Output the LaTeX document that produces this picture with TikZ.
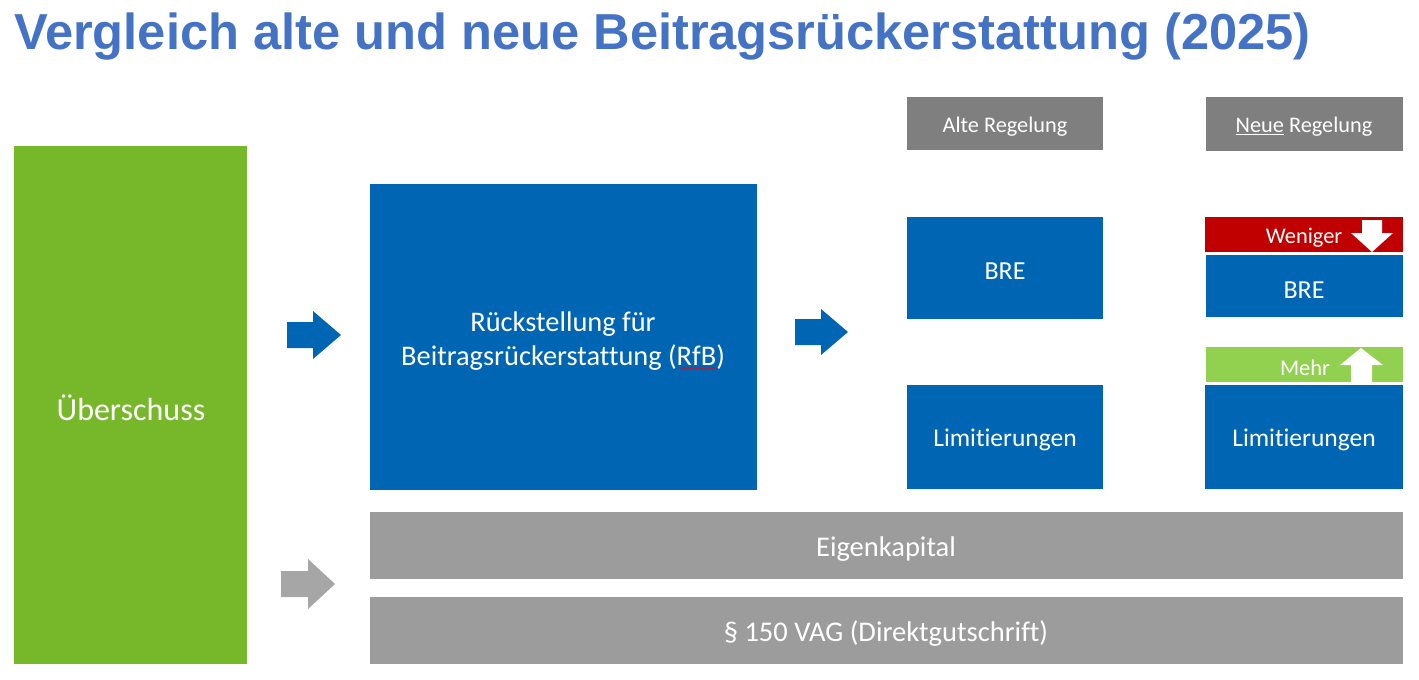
\documentclass[tikz,border=0pt]{standalone}
\usepackage{fontspec}
\usetikzlibrary{decorations.pathmorphing}
\setmainfont[Ligatures=NoCommon]{Carlito}
\newfontfamily\titlefont{Liberation Sans}
\definecolor{titleblue}{HTML}{4472C4}
\definecolor{boxblue}{HTML}{0065B2}
\definecolor{boxgreen}{HTML}{77B82A}
\definecolor{hdrgray}{HTML}{7F7F7F}
\definecolor{bargray}{HTML}{9C9C9C}
\definecolor{arrgray}{HTML}{A6A6A6}
\definecolor{wred}{HTML}{C00000}
\definecolor{mgreen}{HTML}{92D050}
\newcommand{\fsz}[1]{\fontsize{#1}{#1}\selectfont}
\tikzset{lbl/.style={text=white, inner sep=0pt, font=\fsz{#1}, yshift=-2pt}}
\begin{document}
\begin{tikzpicture}[x=1pt,y=-1pt]
\useasboundingbox (0,0) rectangle (1419,680);
% title
\node[anchor=base west, inner sep=0pt, text=titleblue, font=\titlefont\bfseries\fontsize{50.6}{56}\selectfont] (title) at (14,49) {Vergleich alte und neue Beitragsrückerstattung (2025)};
% green
\fill[boxgreen] (14,146) rectangle (247,664);
\node[lbl=32] (ueb) at (131,406) {Überschuss};
% RfB
\fill[boxblue] (370,184) rectangle (757,490);
\node[text=white, align=center, inner sep=0pt, yshift=-2pt, font=\fontsize{28.4}{34}\selectfont] (rfb) at (563,339) {Rückstellung für\\Beitragsrückerstattung (RfB)};
\coordinate (sq1) at (679,368);
\coordinate (sq2) at (716,368);
\draw[red, line width=0.6pt, decorate, decoration={snake, amplitude=0.8pt, segment length=3pt}] (sq1) -- (sq2);
% arrows
\fill[boxblue] (287,322) -- (313,322) -- (313,311) -- (341,335) -- (313,359) -- (313,348) -- (287,348) -- cycle;
\fill[boxblue] (795,319) -- (821,319) -- (821,309) -- (848,332) -- (821,355) -- (821,345) -- (795,345) -- cycle;
\fill[arrgray] (281,571) -- (308,571) -- (308,559) -- (335,584) -- (308,609) -- (308,597) -- (281,597) -- cycle;
% headers
\fill[hdrgray] (907,97) rectangle (1103,150);
\node[lbl=22.3] (alt) at (1005,125) {Alte Regelung};
\fill[hdrgray] (1206,97) rectangle (1403,151);
\node[lbl=22.3] (neu) at (1304,125) {\underline{Neue} Regelung};
% old column
\fill[boxblue] (907,217) rectangle (1103,319);
\node[lbl=26] (bre1) at (1005,269) {BRE};
\fill[boxblue] (907,385) rectangle (1103,489);
\node[lbl=25.5] (lim1) at (1005,438) {Limitierungen};
% new column
\fill[wred] (1205,217) rectangle (1403,252);
\node[lbl=22.4] (wen) at (1304,236) {Weniger};
\fill[white] (1362,220) -- (1382,220) -- (1382,233) -- (1393,233) -- (1372,252) -- (1351,233) -- (1362,233) -- cycle;
\fill[boxblue] (1206,255) rectangle (1403,317);
\node[lbl=26] (bre2) at (1304,288) {BRE};
\fill[mgreen] (1206,347) rectangle (1403,382);
\node[lbl=22.4] (mehr) at (1305,366) {Mehr};
\fill[white] (1351,382) -- (1372,382) -- (1372,365) -- (1383,365) -- (1361,348) -- (1340,365) -- (1351,365) -- cycle;
\fill[boxblue] (1205,385) rectangle (1403,489);
\node[lbl=25.5] (lim2) at (1304,438) {Limitierungen};
% bars
\fill[bargray] (370,512) rectangle (1403,579);
\node[lbl=28.5] (ek) at (886,547) {Eigenkapital};
\fill[bargray] (370,597) rectangle (1403,664);
\node[lbl=28.5] (vag) at (886,632) {§ 150 VAG (Direktgutschrift)};
\end{tikzpicture}
\end{document}
